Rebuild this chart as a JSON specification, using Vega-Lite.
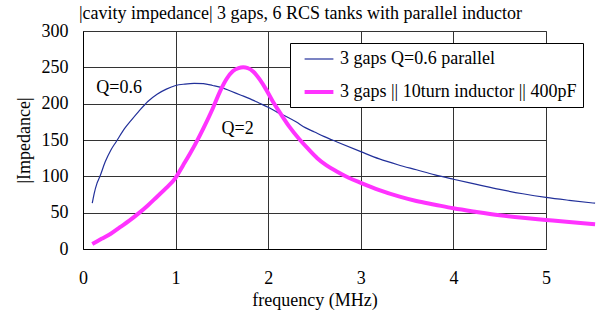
{
  "$schema": "https://vega.github.io/schema/vega-lite/v6.json",
  "autosize": {"type": "none"},
  "padding": {"left": 83, "top": 31, "right": 53, "bottom": 63},
  "width": 463,
  "height": 218,
  "background": "white",
  "title": {
    "text": "|cavity impedance| 3 gaps, 6 RCS tanks with parallel inductor",
    "font": "Liberation Serif",
    "fontSize": 18,
    "fontWeight": "normal",
    "color": "black",
    "anchor": "middle",
    "dx": -14,
    "offset": -1
  },
  "config": {
    "view": {"stroke": "#777777", "strokeWidth": 1},
    "axis": {
      "labelFont": "Liberation Serif",
      "labelFontSize": 18,
      "labelColor": "black",
      "labelOverlap": false,
      "titleFont": "Liberation Serif",
      "titleFontSize": 18,
      "titleFontWeight": "normal",
      "titleColor": "black",
      "ticks": false,
      "domainColor": "black",
      "domainWidth": 1,
      "gridColor": "#333333",
      "gridWidth": 1,
      "gridOpacity": 1
    },
    "legend": {
      "labelFont": "Liberation Serif",
      "labelFontSize": 18,
      "labelColor": "black",
      "labelLimit": 400
    }
  },
  "encoding": {
    "x": {
      "field": "f",
      "type": "quantitative",
      "scale": {"domain": [0, 5], "nice": false, "zero": false},
      "axis": {
        "values": [0, 1, 2, 3, 4, 5],
        "format": "d",
        "title": "frequency (MHz)",
        "labelFont": "Liberation Serif",
        "labelPadding": 20,
        "titlePadding": 4,
        "labelFlush": false
      }
    },
    "y": {
      "field": "z",
      "type": "quantitative",
      "scale": {"domain": [0, 300], "nice": false},
      "axis": {
        "values": [0, 50, 100, 150, 200, 250, 300],
        "format": "d",
        "title": "|Impedance|",
        "labelFont": "Liberation Serif",
        "labelPadding": 15,
        "titlePadding": 8
      }
    }
  },
  "layer": [
    {
      "data": {
        "values": [
          {"f": 0.10, "z": 63, "s": "3 gaps Q=0.6 parallel"},
          {"f": 0.12, "z": 76, "s": "3 gaps Q=0.6 parallel"},
          {"f": 0.15, "z": 90, "s": "3 gaps Q=0.6 parallel"},
          {"f": 0.18, "z": 99, "s": "3 gaps Q=0.6 parallel"},
          {"f": 0.24, "z": 120, "s": "3 gaps Q=0.6 parallel"},
          {"f": 0.30, "z": 136, "s": "3 gaps Q=0.6 parallel"},
          {"f": 0.36, "z": 148, "s": "3 gaps Q=0.6 parallel"},
          {"f": 0.45, "z": 166, "s": "3 gaps Q=0.6 parallel"},
          {"f": 0.52, "z": 177, "s": "3 gaps Q=0.6 parallel"},
          {"f": 0.60, "z": 189, "s": "3 gaps Q=0.6 parallel"},
          {"f": 0.70, "z": 203, "s": "3 gaps Q=0.6 parallel"},
          {"f": 0.80, "z": 213, "s": "3 gaps Q=0.6 parallel"},
          {"f": 0.90, "z": 220, "s": "3 gaps Q=0.6 parallel"},
          {"f": 1.00, "z": 225, "s": "3 gaps Q=0.6 parallel"},
          {"f": 1.10, "z": 227, "s": "3 gaps Q=0.6 parallel"},
          {"f": 1.20, "z": 228, "s": "3 gaps Q=0.6 parallel"},
          {"f": 1.30, "z": 227.5, "s": "3 gaps Q=0.6 parallel"},
          {"f": 1.40, "z": 225, "s": "3 gaps Q=0.6 parallel"},
          {"f": 1.50, "z": 222, "s": "3 gaps Q=0.6 parallel"},
          {"f": 1.60, "z": 217, "s": "3 gaps Q=0.6 parallel"},
          {"f": 1.70, "z": 212, "s": "3 gaps Q=0.6 parallel"},
          {"f": 1.80, "z": 207, "s": "3 gaps Q=0.6 parallel"},
          {"f": 1.90, "z": 201, "s": "3 gaps Q=0.6 parallel"},
          {"f": 2.00, "z": 195, "s": "3 gaps Q=0.6 parallel"},
          {"f": 2.10, "z": 188, "s": "3 gaps Q=0.6 parallel"},
          {"f": 2.20, "z": 182, "s": "3 gaps Q=0.6 parallel"},
          {"f": 2.30, "z": 175, "s": "3 gaps Q=0.6 parallel"},
          {"f": 2.40, "z": 167, "s": "3 gaps Q=0.6 parallel"},
          {"f": 2.50, "z": 161, "s": "3 gaps Q=0.6 parallel"},
          {"f": 2.60, "z": 155, "s": "3 gaps Q=0.6 parallel"},
          {"f": 2.75, "z": 147, "s": "3 gaps Q=0.6 parallel"},
          {"f": 3.00, "z": 134, "s": "3 gaps Q=0.6 parallel"},
          {"f": 3.20, "z": 124, "s": "3 gaps Q=0.6 parallel"},
          {"f": 3.40, "z": 116, "s": "3 gaps Q=0.6 parallel"},
          {"f": 3.60, "z": 109, "s": "3 gaps Q=0.6 parallel"},
          {"f": 3.80, "z": 102, "s": "3 gaps Q=0.6 parallel"},
          {"f": 4.00, "z": 96, "s": "3 gaps Q=0.6 parallel"},
          {"f": 4.25, "z": 89, "s": "3 gaps Q=0.6 parallel"},
          {"f": 4.50, "z": 82, "s": "3 gaps Q=0.6 parallel"},
          {"f": 4.75, "z": 76, "s": "3 gaps Q=0.6 parallel"},
          {"f": 5.00, "z": 71, "s": "3 gaps Q=0.6 parallel"},
          {"f": 5.25, "z": 67, "s": "3 gaps Q=0.6 parallel"},
          {"f": 5.53, "z": 63, "s": "3 gaps Q=0.6 parallel"},
          {"f": 0.10, "z": 7, "s": "3 gaps || 10turn inductor || 400pF"},
          {"f": 0.20, "z": 14, "s": "3 gaps || 10turn inductor || 400pF"},
          {"f": 0.30, "z": 21, "s": "3 gaps || 10turn inductor || 400pF"},
          {"f": 0.40, "z": 30, "s": "3 gaps || 10turn inductor || 400pF"},
          {"f": 0.50, "z": 39, "s": "3 gaps || 10turn inductor || 400pF"},
          {"f": 0.60, "z": 49, "s": "3 gaps || 10turn inductor || 400pF"},
          {"f": 0.70, "z": 60, "s": "3 gaps || 10turn inductor || 400pF"},
          {"f": 0.80, "z": 72, "s": "3 gaps || 10turn inductor || 400pF"},
          {"f": 0.90, "z": 84, "s": "3 gaps || 10turn inductor || 400pF"},
          {"f": 1.00, "z": 98, "s": "3 gaps || 10turn inductor || 400pF"},
          {"f": 1.08, "z": 115, "s": "3 gaps || 10turn inductor || 400pF"},
          {"f": 1.15, "z": 130, "s": "3 gaps || 10turn inductor || 400pF"},
          {"f": 1.22, "z": 146, "s": "3 gaps || 10turn inductor || 400pF"},
          {"f": 1.30, "z": 166, "s": "3 gaps || 10turn inductor || 400pF"},
          {"f": 1.40, "z": 193, "s": "3 gaps || 10turn inductor || 400pF"},
          {"f": 1.48, "z": 217, "s": "3 gaps || 10turn inductor || 400pF"},
          {"f": 1.55, "z": 234, "s": "3 gaps || 10turn inductor || 400pF"},
          {"f": 1.62, "z": 245, "s": "3 gaps || 10turn inductor || 400pF"},
          {"f": 1.68, "z": 249, "s": "3 gaps || 10turn inductor || 400pF"},
          {"f": 1.73, "z": 250, "s": "3 gaps || 10turn inductor || 400pF"},
          {"f": 1.78, "z": 249, "s": "3 gaps || 10turn inductor || 400pF"},
          {"f": 1.84, "z": 244, "s": "3 gaps || 10turn inductor || 400pF"},
          {"f": 1.91, "z": 233, "s": "3 gaps || 10turn inductor || 400pF"},
          {"f": 1.98, "z": 219, "s": "3 gaps || 10turn inductor || 400pF"},
          {"f": 2.05, "z": 203, "s": "3 gaps || 10turn inductor || 400pF"},
          {"f": 2.13, "z": 187, "s": "3 gaps || 10turn inductor || 400pF"},
          {"f": 2.23, "z": 168, "s": "3 gaps || 10turn inductor || 400pF"},
          {"f": 2.33, "z": 152, "s": "3 gaps || 10turn inductor || 400pF"},
          {"f": 2.43, "z": 138, "s": "3 gaps || 10turn inductor || 400pF"},
          {"f": 2.53, "z": 125, "s": "3 gaps || 10turn inductor || 400pF"},
          {"f": 2.63, "z": 115, "s": "3 gaps || 10turn inductor || 400pF"},
          {"f": 2.75, "z": 106, "s": "3 gaps || 10turn inductor || 400pF"},
          {"f": 2.87, "z": 98, "s": "3 gaps || 10turn inductor || 400pF"},
          {"f": 3.00, "z": 91, "s": "3 gaps || 10turn inductor || 400pF"},
          {"f": 3.20, "z": 81, "s": "3 gaps || 10turn inductor || 400pF"},
          {"f": 3.42, "z": 72, "s": "3 gaps || 10turn inductor || 400pF"},
          {"f": 3.60, "z": 66, "s": "3 gaps || 10turn inductor || 400pF"},
          {"f": 3.80, "z": 61, "s": "3 gaps || 10turn inductor || 400pF"},
          {"f": 4.00, "z": 56, "s": "3 gaps || 10turn inductor || 400pF"},
          {"f": 4.25, "z": 51, "s": "3 gaps || 10turn inductor || 400pF"},
          {"f": 4.50, "z": 46.5, "s": "3 gaps || 10turn inductor || 400pF"},
          {"f": 4.75, "z": 43, "s": "3 gaps || 10turn inductor || 400pF"},
          {"f": 5.00, "z": 40, "s": "3 gaps || 10turn inductor || 400pF"},
          {"f": 5.25, "z": 37, "s": "3 gaps || 10turn inductor || 400pF"},
          {"f": 5.53, "z": 34, "s": "3 gaps || 10turn inductor || 400pF"}
        ]
      },
      "mark": {"type": "line", "clip": false, "interpolate": "monotone"},
      "encoding": {
        "color": {
          "field": "s",
          "type": "nominal",
          "scale": {
            "domain": ["3 gaps Q=0.6 parallel", "3 gaps || 10turn inductor || 400pF"],
            "range": ["#22309a", "#ff33ff"]
          },
          "legend": {
            "title": null,
            "orient": "none",
            "legendX": 207,
            "legendY": 12,
            "fillColor": "white",
            "strokeColor": "black",
            "padding": 6,
            "symbolType": "M-1.6,0H1.6",
            "symbolSize": 324,
            "symbolOffset": 12,
            "labelOffset": 10,
            "labelLimit": 400,
            "rowPadding": 13
          }
        },
        "strokeWidth": {
          "field": "s",
          "type": "nominal",
          "scale": {
            "domain": ["3 gaps Q=0.6 parallel", "3 gaps || 10turn inductor || 400pF"],
            "range": [1.2, 4]
          },
          "legend": {
            "title": null,
            "orient": "none",
            "legendX": 207,
            "legendY": 12,
            "fillColor": "white",
            "strokeColor": "black",
            "padding": 6,
            "symbolType": "M-1.6,0H1.6",
            "symbolSize": 324,
            "symbolOffset": 12,
            "labelOffset": 10,
            "labelLimit": 400,
            "rowPadding": 13
          }
        }
      }
    },
    {
      "data": {
        "values": [
          {"f": 0.39, "z": 221, "t": "Q=0.6"},
          {"f": 1.67, "z": 165, "t": "Q=2"}
        ]
      },
      "mark": {
        "type": "text",
        "font": "Liberation Serif",
        "fontSize": 18,
        "color": "black",
        "align": "center",
        "baseline": "middle"
      },
      "encoding": {
        "text": {"field": "t"}
      }
    }
  ]
}
